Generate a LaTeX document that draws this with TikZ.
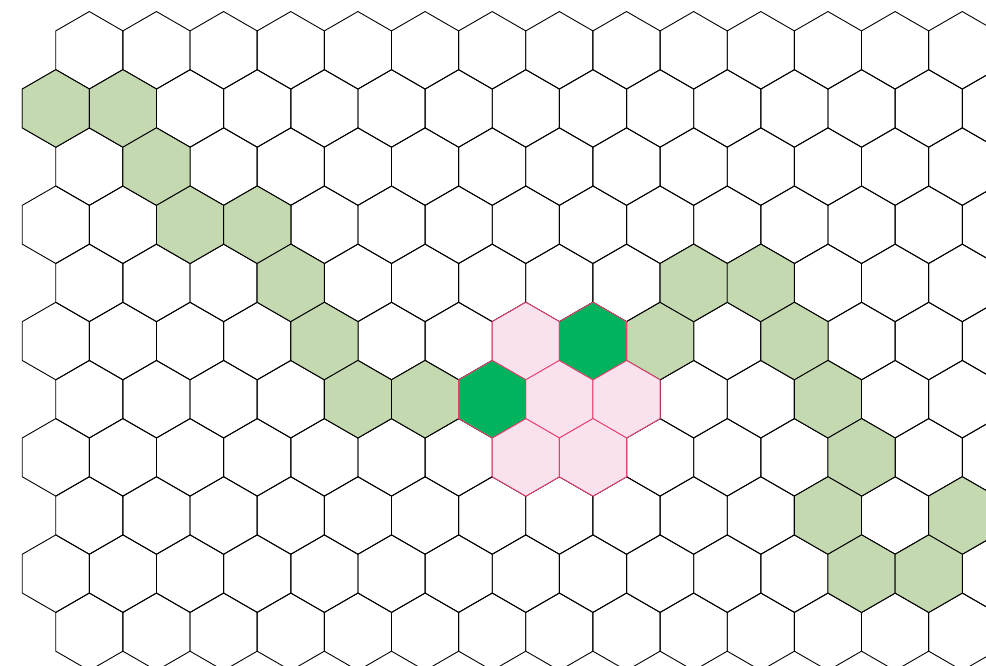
\documentclass[tikz,border=0pt]{standalone}
\definecolor{lg}{HTML}{C4D9AF}
\definecolor{dg}{HTML}{00B35C}
\definecolor{pk}{HTML}{F9E2EE}
\definecolor{pkb}{HTML}{E5416F}
\tikzset{
  plainhex/.style={draw=black, line width=0.9pt, line join=round},
  greenhex/.style={plainhex, fill=lg},
  pinkhex/.style={draw=pkb, fill=pk, line width=0.9pt, line join=round},
  darkhex/.style={draw=pkb, fill=dg, line width=0.9pt, line join=round}
}
\newcommand{\hexat}[3]{%
  \pgfmathsetmacro\hx{89.3-33.5*mod(#1,2)+67.15*#2}%
  \pgfmathsetmacro\hy{50.3+58.15*#1}%
  \draw[#3, shift={(\hx,\hy)}] (30:38.77) -- (90:38.77) -- (150:38.77) -- (210:38.77) -- (270:38.77) -- (330:38.77) -- cycle;%
}
\begin{document}
\begin{tikzpicture}[x=1pt, y=-1pt]
\useasboundingbox (0,0) rectangle (986,666);
\clip (0,0) rectangle (986,666);
\fill[white] (0,0) rectangle (986,666);
% full grid
\foreach \r in {0,...,10} {
  \foreach \c in {0,...,14} {
    \hexat{\r}{\c}{plainhex}
  }
}
% light green path cells
\foreach \r/\c in {1/0,1/1,2/1,3/2,3/3,4/3,5/4,6/4,6/5,5/9,4/9,4/10,5/11,6/11,7/12,8/11,8/13,9/12,9/13} {
  \hexat{\r}{\c}{greenhex}
}
% pink cells
\foreach \r/\c in {5/7,6/7,6/8,7/7,7/8} {
  \hexat{\r}{\c}{pinkhex}
}
% dark green cells
\foreach \r/\c in {6/6,5/8} {
  \hexat{\r}{\c}{darkhex}
}
\end{tikzpicture}
\end{document}
